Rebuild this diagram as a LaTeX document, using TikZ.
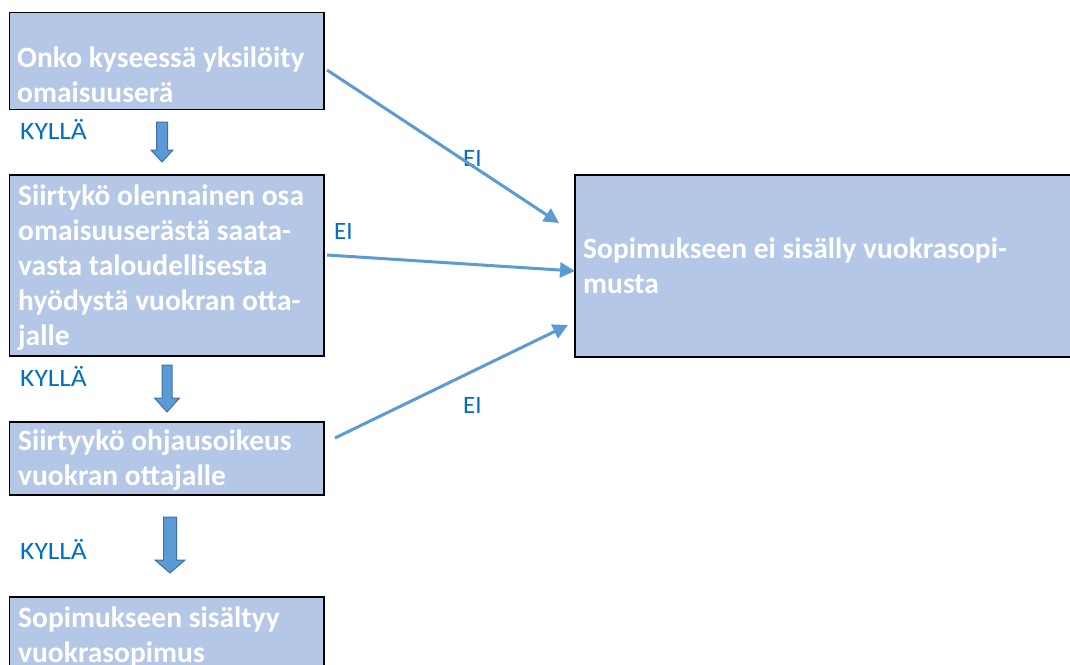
\documentclass[tikz,border=0pt]{standalone}
\usepackage{fontspec}
\setmainfont{Carlito}
\newfontfamily\kylfont[FakeStretch=1.1]{Carlito}
\usetikzlibrary{arrows.meta}
\definecolor{boxfill}{HTML}{B4C7E7}
\definecolor{conn}{HTML}{5B9BD5}
\definecolor{connedge}{HTML}{41719C}
\definecolor{lbl}{HTML}{0070C0}
\newcommand\bkarrow[6]{%
  \filldraw[bkarr] ({#1-#4/2},#2) -- ({#1+#4/2},#2) -- ({#1+#4/2},{#3-#6}) -- ({#1+#5/2},{#3-#6}) -- (#1,#3) -- ({#1-#5/2},{#3-#6}) -- ({#1-#4/2},{#3-#6}) -- cycle;}
\tikzset{
  box/.style={draw=black, line width=1.6pt, fill=boxfill, rectangle, inner sep=0pt},
  boxtext/.style={anchor=north west, inner sep=0pt, align=left, text=white,
    font=\bfseries\fontsize{29.5}{35}\selectfont},
  lab/.style={anchor=base west, inner sep=0pt, text=lbl, font=\kylfont\fontsize{25}{30}\selectfont},
  elab/.style={anchor=base west, inner sep=0pt, text=lbl, font=\fontsize{25}{30}\selectfont},
  conarrow/.style={draw=conn, line width=3pt, -{Triangle[length=15pt,width=15pt]}},
  bkarr/.style={fill=conn, draw=connedge, line width=1pt, line join=miter}
}
\begin{document}
\begin{tikzpicture}[x=1pt,y=-1pt]
\useasboundingbox (0,0) rectangle (1070,664);
\clip (0,0) rectangle (1070,664);
\fill[white] (0,0) rectangle (1070,664);
% boxes
\node[box, minimum width=314.5pt, minimum height=97pt] (b1) at (166.75,61) {};
\node[box, minimum width=314.5pt, minimum height=181pt] (b2) at (166.75,265.5) {};
\node[box, minimum width=314.5pt, minimum height=73pt] (b3) at (166.75,458.5) {};
\node[box, minimum width=314.5pt, minimum height=123pt] (b4) at (166.75,658.5) {};
\node[box, minimum width=525pt, minimum height=182pt] (r) at (837.5,266) {};
% box texts
\node[boxtext] (t1) at (17,42.5) {\strut Onko kyseessä yksilöity\\omaisuuserä};
\node[boxtext] (t2) at (18,180.5) {\strut Siirtykö olennainen osa\\omaisuuserästä saata-\\vasta taloudellisesta\\hyödystä vuokran otta-\\jalle};
\node[boxtext] (t3) at (18,425.5) {\strut Siirtyykö ohjausoikeus\\vuokran ottajalle};
\node[boxtext] (t4) at (18,602.5) {\strut Sopimukseen sisältyy\\vuokrasopimus};
\node[boxtext] (tr) at (583,233.5) {\strut Sopimukseen ei sisälly vuokrasopi-\\musta};
% labels
\node[lab] (k1) at (20,139) {KYLLÄ};
\node[lab] (k2) at (20,386) {KYLLÄ};
\node[lab] (k3) at (20,559) {KYLLÄ};
\node[elab] (e1) at (463,166) {EI};
\node[elab] (e2) at (334,239) {EI};
\node[elab] (e3) at (463,413) {EI};
% block arrows
\bkarrow{162}{122}{162}{11}{22}{12}
\bkarrow{167}{365}{412}{10}{25}{14}
\bkarrow{170}{517}{573}{13}{30}{13}
% connectors
\coordinate (s1) at (327,70);
\coordinate (d1) at (559,223);
\coordinate (s2) at (327,255);
\coordinate (d2) at (575,271);
\coordinate (s3) at (335,438);
\coordinate (d3) at (568,325);
\draw[conarrow] (s1) -- (d1);
\draw[conarrow] (s2) -- (d2);
\draw[conarrow] (s3) -- (d3);
\end{tikzpicture}
\end{document}
